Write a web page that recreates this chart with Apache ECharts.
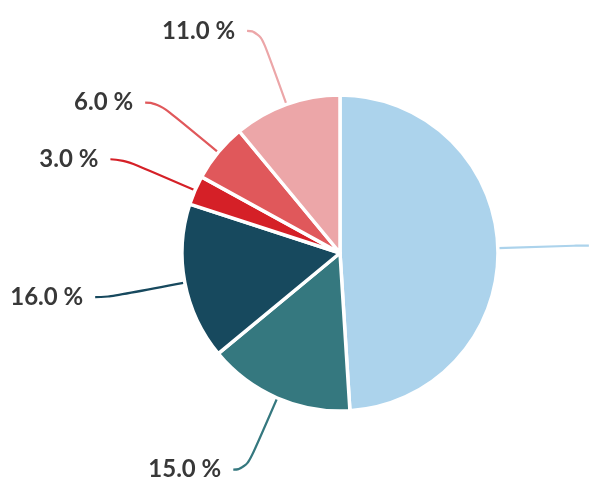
<!DOCTYPE html>
<html><head><meta charset="utf-8">
<script src="https://cdn.jsdelivr.net/npm/echarts@6/dist/echarts.min.js"></script>
<style>html,body{margin:0;padding:0;background:#fff}#c{width:603px;height:489px}</style>
</head><body><div id="c"></div>
<script>
const names = ['A', 'B', 'C', 'D', 'E', 'F'];
const values = [49, 15, 16, 3, 6, 11];
const colors = ['#acd3ec', '#35787f', '#17495e', '#d52027', '#e0585b', '#eca6a8'];

const chart = echarts.init(document.getElementById('c'), null, {renderer: 'canvas'});
chart.setOption({
  animation: false,
  series: [{
    type: 'pie',
    center: [340, 253],
    radius: 158,
    startAngle: 90,
    clockwise: true,
    avoidLabelOverlap: true,
    itemStyle: {borderColor: '#fff', borderWidth: 3.5},
    label: {
      show: true,
      position: 'outside',
      fontFamily: 'Lato',
      fontSize: 24,
      fontWeight: 'bold',
      color: '#383838',
      distanceToLabelLine: 12,
      formatter: p => p.value.toFixed(1) + ' %'
    },
    labelLine: {show: true, length: 78, length2: 13, smooth: 0.6, lineStyle: {width: 2.2}},
    data: names.map((n, i) => ({
      name: n, value: values[i],
      itemStyle: {color: colors[i]},
      labelLine: {lineStyle: {color: colors[i]}}
    }))
  }]
});
</script></body></html>
